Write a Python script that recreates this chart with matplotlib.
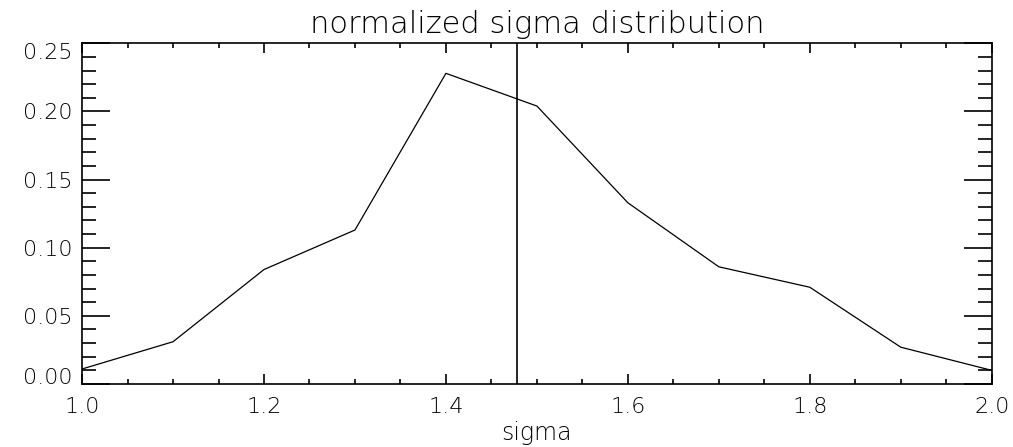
import matplotlib
matplotlib.use("Agg")
import matplotlib.pyplot as plt
import numpy as np
from matplotlib.ticker import MultipleLocator, FormatStrFormatter

# data
sigma = [1.0, 1.1, 1.2, 1.3, 1.4, 1.5, 1.6, 1.7, 1.8, 1.9, 2.0]
frac = [0.011, 0.031, 0.084, 0.113, 0.228, 0.204, 0.133, 0.086, 0.071, 0.027, 0.010]
sigma_mark = 1.478

# thin strokes, closer to the IDL vector font
plt.rcParams["font.family"] = ["DejaVu Sans"]
plt.rcParams["font.weight"] = 200

fig = plt.figure(figsize=(10.13, 4.47), dpi=100)
ax = fig.add_axes([0.081, 0.141, 0.898, 0.762])

ax.plot(sigma, frac, color="black", linewidth=0.9)
ax.axvline(sigma_mark, color="black", linewidth=1.2)

ax.set_xlim(1.0, 2.0)
ax.set_ylim(0.0, 0.25)
ax.set_xticks(np.arange(1.0, 2.01, 0.2))
ax.set_yticks(np.arange(0.0, 0.251, 0.05))
ax.set_ylim(0.0, 0.25)
ax.xaxis.set_minor_locator(MultipleLocator(0.05))
ax.yaxis.set_minor_locator(MultipleLocator(0.01))
ax.xaxis.set_major_formatter(FormatStrFormatter("%.1f"))
ax.yaxis.set_major_formatter(FormatStrFormatter("%.2f"))

ax.tick_params(which="both", direction="in", top=True, right=True, width=1.2,
               labelsize=16, colors="black")
ax.tick_params(axis="x", which="major", length=7, pad=9.5)
ax.tick_params(axis="x", which="minor", length=3.5)
ax.tick_params(axis="y", which="major", length=20, pad=7)
ax.tick_params(axis="y", which="minor", length=10)
for s in ax.spines.values():
    s.set_linewidth(1.2)

# IDL keeps the end labels inside the axis range
yt = ax.yaxis.get_major_ticks()
yt[0].label1.set_verticalalignment("baseline")
yt[-1].label1.set_verticalalignment("top")

fig.text(0.530, 0.926, "normalized sigma distribution", fontsize=22,
         ha="center", va="baseline")
fig.text(0.530, 0.0157, "sigma", fontsize=17, ha="center", va="baseline")

fig.savefig("out.png", dpi=100)
